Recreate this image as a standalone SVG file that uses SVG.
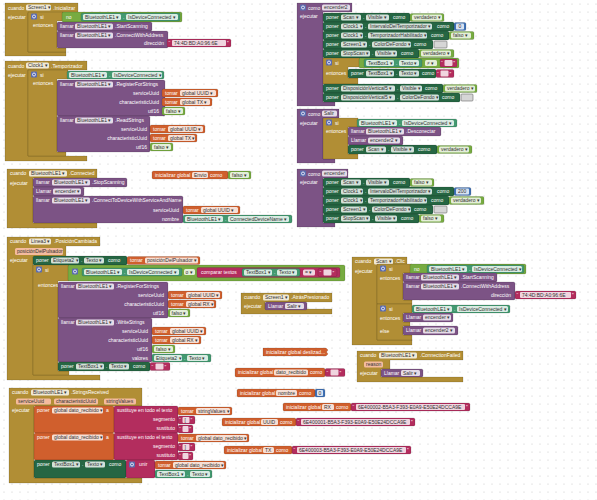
<svg xmlns="http://www.w3.org/2000/svg" width="597" height="500" viewBox="0 0 597 500">
<defs>
<style>
.t{font-family:"Liberation Sans",Arial,sans-serif;font-size:5px;fill:#fff}
.ft{font-family:"Liberation Sans",Arial,sans-serif;font-size:5px;fill:#333}
.r{text-anchor:end}
.f{fill:#fff;fill-opacity:.8}
.pf{fill:#f4bb9f}
.b{stroke:#000;stroke-opacity:.25;stroke-width:.5}
.gd{fill:#b18e35}.pu{fill:#7c5385}.dg{fill:#266643}.tg{fill:#439970}.lg{fill:#77ab41}.or{fill:#d05f2d}.pk{fill:#b32d5e}.bl{fill:#3f71b5}
.cb{fill:#d6d6d6;stroke:#6a6a6a;stroke-width:.6}
</style>
<pattern id="dots" width="8" height="8" patternUnits="userSpaceOnUse"><circle cx="4" cy="4" r=".55" fill="#c4c4c4"/></pattern>
<g id="gear"><rect width="6" height="6" rx="1" fill="#5b6cb0"/><circle cx="3" cy="3" r="1.5" fill="none" stroke="#fff" stroke-width=".8"/></g>
</defs>
<rect width="597" height="500" fill="#fff"/>
<rect width="597" height="500" fill="url(#dots)"/>
<g id="connectors"/>

<g id="screen1-inicializar">
<path class="gd b" d="M5 3H78V13H28V52H66V56H5Z"/>
<text class="t" x="8" y="9.8">cuando</text>
<rect class="f" x="26" y="4.5" width="25" height="6" rx="1.5"/><text class="ft" x="28" y="9.1">Screen1 ▾</text>
<text class="t" x="53" y="9.8">.Inicializar</text>
<text class="t" x="8" y="18.5">ejecutar</text>
<path class="gd b" d="M28 12H63V21H57V48H66V52H28Z"/>
<use href="#gear" x="31" y="13.5"/>
<text class="t" x="40" y="18.5">si</text>
<text class="t" x="33" y="26.5">entonces</text>
<rect class="lg b" x="62" y="12" width="120" height="10" rx="1.5"/>
<text class="t" x="66" y="18.8">no</text>
<rect class="tg b" x="81" y="13" width="99" height="8" rx="1.5"/>
<rect class="f" x="83" y="14" width="38" height="6" rx="1.5"/><text class="ft" x="85" y="18.6">BluetoothLE1 ▾</text>
<text class="t" x="123" y="18.8">.</text>
<rect class="f" x="126" y="14" width="52" height="6" rx="1.5"/><text class="ft" x="128" y="18.6">IsDeviceConnected ▾</text>
<rect class="pu b" x="57" y="22" width="95" height="9" rx="1.5"/>
<text class="t" x="60" y="28.3">llamar</text>
<rect class="f" x="75" y="23.5" width="38" height="6" rx="1.5"/><text class="ft" x="77" y="28.1">BluetoothLE1 ▾</text>
<text class="t" x="115" y="28.3">.StartScanning</text>
<rect class="pu b" x="57" y="31" width="111" height="17" rx="1.5"/>
<text class="t" x="60" y="37.3">llamar</text>
<rect class="f" x="75" y="32.5" width="38" height="6" rx="1.5"/><text class="ft" x="77" y="37.1">BluetoothLE1 ▾</text>
<text class="t" x="115" y="37.3">.ConnectWithAddress</text>
<text class="t r" x="164" y="45">dirección</text>
<rect class="pk b" x="167" y="39" width="64" height="8" rx="1.5"/>
<text class="t" x="168.5" y="45">“</text>
<rect class="f" x="172" y="40" width="54" height="6" rx="1"/><text class="ft" x="174" y="44.6">74:4D:BD:A0:96:6E</text>
<text class="t" x="227" y="45">”</text>
</g>

<g id="clock1-temporizador">
<path class="gd b" d="M5 61H87V70H28V156H87V161H5Z"/>
<text class="t" x="8" y="67.5">cuando</text>
<rect class="f" x="26" y="62.5" width="23" height="6" rx="1.5"/><text class="ft" x="28" y="67.1">Clock1 ▾</text>
<text class="t" x="51" y="67.5">.Temporizador</text>
<text class="t" x="8" y="77">ejecutar</text>
<path class="gd b" d="M28 70H68V79H57V152H66V156H28Z"/>
<use href="#gear" x="31" y="71.5"/>
<text class="t" x="40" y="76.5">si</text>
<text class="t" x="33" y="85">entonces</text>
<rect class="tg b" x="67" y="71" width="97" height="8" rx="1.5"/>
<rect class="f" x="69" y="72" width="38" height="6" rx="1.5"/><text class="ft" x="71" y="76.6">BluetoothLE1 ▾</text>
<text class="t" x="109" y="76.8">.</text>
<rect class="f" x="112" y="72" width="50" height="6" rx="1.5"/><text class="ft" x="114" y="76.6">IsDeviceConnected ▾</text>
<rect class="pu b" x="57" y="80" width="108" height="36" rx="1.5"/>
<text class="t" x="60" y="86.3">llamar</text>
<rect class="f" x="75" y="81.5" width="38" height="6" rx="1.5"/><text class="ft" x="77" y="86.1">BluetoothLE1 ▾</text>
<text class="t" x="115" y="86.3">.RegisterForStrings</text>
<text class="t r" x="159" y="94.8">serviceUuid</text>
<text class="t r" x="159" y="103.8">characteristicUuid</text>
<text class="t r" x="159" y="112.8">utf16</text>
<rect class="or b" x="162" y="89" width="56" height="8" rx="1.5"/>
<text class="t" x="165" y="94.8">tomar</text>
<rect class="f" x="180" y="90" width="36" height="6" rx="1.5"/><text class="ft" x="182" y="94.6">global UUID ▾</text>
<rect class="or b" x="162" y="98" width="50" height="8" rx="1.5"/>
<text class="t" x="165" y="103.8">tomar</text>
<rect class="f" x="180" y="99" width="30" height="6" rx="1.5"/><text class="ft" x="182" y="103.6">global TX ▾</text>
<rect class="lg b" x="162" y="107" width="23" height="8" rx="1.5"/>
<rect class="f" x="164" y="108" width="19" height="6" rx="1.5"/><text class="ft" x="166" y="112.6">falso ▾</text>
<rect class="pu b" x="57" y="116" width="93" height="36" rx="1.5"/>
<text class="t" x="60" y="122.3">llamar</text>
<rect class="f" x="75" y="117.5" width="38" height="6" rx="1.5"/><text class="ft" x="77" y="122.1">BluetoothLE1 ▾</text>
<text class="t" x="115" y="122.3">.ReadStrings</text>
<text class="t r" x="147" y="130.8">serviceUuid</text>
<text class="t r" x="147" y="139.8">characteristicUuid</text>
<text class="t r" x="147" y="148.8">utf16</text>
<rect class="or b" x="150" y="125" width="55" height="8" rx="1.5"/>
<text class="t" x="153" y="130.8">tomar</text>
<rect class="f" x="168" y="126" width="35" height="6" rx="1.5"/><text class="ft" x="170" y="130.6">global UUID ▾</text>
<rect class="or b" x="150" y="134" width="47" height="8" rx="1.5"/>
<text class="t" x="153" y="139.8">tomar</text>
<rect class="f" x="168" y="135" width="27" height="6" rx="1.5"/><text class="ft" x="170" y="139.6">global TX ▾</text>
<rect class="lg b" x="150" y="143" width="23" height="8" rx="1.5"/>
<rect class="f" x="152" y="144" width="19" height="6" rx="1.5"/><text class="ft" x="154" y="148.6">falso ▾</text>
</g>

<g id="proc-encender2">
<path class="pu b" d="M297 3H352V12H323V102H335V106H297Z"/>
<use href="#gear" x="300" y="4.5"/>
<text class="t" x="308" y="9.6">como</text>
<rect class="f" x="322" y="4.5" width="28" height="6" rx="1.5"/><text class="ft" x="324" y="9.1">encender2</text>
<text class="t" x="300" y="18">ejecutar</text>
<rect class="dg b" x="323" y="13" width="87" height="9" rx="1.5"/>
<text class="t" x="326" y="19.3">poner</text>
<rect class="f" x="341" y="14.5" width="20" height="6" rx="1.5"/><text class="ft" x="343" y="19.1">Scan ▾</text>
<text class="t" x="363" y="19.3">.</text>
<rect class="f" x="366" y="14.5" width="23" height="6" rx="1.5"/><text class="ft" x="368" y="19.1">Visible ▾</text>
<text class="t" x="393" y="19.3">como</text>
<rect class="lg b" x="410" y="13.5" width="34" height="8" rx="1.5"/>
<rect class="f" x="412" y="14.5" width="30" height="6" rx="1.5"/><text class="ft" x="414" y="19.1">verdadero ▾</text>
<rect class="dg b" x="323" y="22" width="131" height="9" rx="1.5"/>
<text class="t" x="326" y="28.3">poner</text>
<rect class="f" x="341" y="23.5" width="22" height="6" rx="1.5"/><text class="ft" x="343" y="28.1">Clock1 ▾</text>
<text class="t" x="365" y="28.3">.</text>
<rect class="f" x="368" y="23.5" width="64" height="6" rx="1.5"/><text class="ft" x="370" y="28.1">IntervaloDelTemporizador ▾</text>
<text class="t" x="437" y="28.3">como</text>
<rect class="bl b" x="454" y="22.5" width="12" height="8" rx="1.5"/>
<rect class="f" x="456" y="23.5" width="8" height="6" rx="1"/><text class="ft" x="458.5" y="28.1">0</text>
<rect class="dg b" x="323" y="31" width="126" height="9" rx="1.5"/>
<text class="t" x="326" y="37.3">poner</text>
<rect class="f" x="341" y="32.5" width="22" height="6" rx="1.5"/><text class="ft" x="343" y="37.1">Clock1 ▾</text>
<text class="t" x="365" y="37.3">.</text>
<rect class="f" x="368" y="32.5" width="59" height="6" rx="1.5"/><text class="ft" x="370" y="37.1">TemporizadorHabilitado ▾</text>
<text class="t" x="431" y="37.3">como</text>
<rect class="lg b" x="449" y="31.5" width="25" height="8" rx="1.5"/>
<rect class="f" x="451" y="32.5" width="20" height="6" rx="1.5"/><text class="ft" x="453" y="37.1">falso ▾</text>
<rect class="dg b" x="323" y="40" width="110" height="9" rx="1.5"/>
<text class="t" x="326" y="46.3">poner</text>
<rect class="f" x="341" y="41.5" width="26" height="6" rx="1.5"/><text class="ft" x="343" y="46.1">Screen1 ▾</text>
<text class="t" x="369" y="46.3">.</text>
<rect class="f" x="372" y="41.5" width="39" height="6" rx="1.5"/><text class="ft" x="374" y="46.1">ColorDeFondo ▾</text>
<text class="t" x="414" y="46.3">como</text>
<rect class="cb" x="434" y="41" width="13" height="7" rx="1"/>
<rect class="dg b" x="323" y="49" width="96" height="9" rx="1.5"/>
<text class="t" x="326" y="55.3">poner</text>
<rect class="f" x="341" y="50.5" width="29" height="6" rx="1.5"/><text class="ft" x="343" y="55.1">StopScan ▾</text>
<text class="t" x="372" y="55.3">.</text>
<rect class="f" x="375" y="50.5" width="22" height="6" rx="1.5"/><text class="ft" x="377" y="55.1">Visible ▾</text>
<text class="t" x="401" y="55.3">como</text>
<rect class="lg b" x="419" y="49.5" width="35" height="8" rx="1.5"/>
<rect class="f" x="421" y="50.5" width="30" height="6" rx="1.5"/><text class="ft" x="423" y="55.1">verdadero ▾</text>
<path class="gd b" d="M323 58H360V67H348V78H358V84H323Z"/>
<use href="#gear" x="326" y="59.5"/>
<text class="t" x="335" y="64.5">si</text>
<text class="t" x="326" y="74.5">entonces</text>
<rect class="lg b" x="359" y="58" width="100" height="10" rx="1.5"/>
<rect class="tg b" x="364" y="59" width="58" height="8" rx="1.5"/>
<rect class="f" x="366" y="60" width="28" height="6" rx="1.5"/><text class="ft" x="368" y="64.6">TextBox1 ▾</text>
<text class="t" x="396" y="64.8">.</text>
<rect class="f" x="399" y="60" width="20" height="6" rx="1.5"/><text class="ft" x="401" y="64.6">Texto ▾</text>
<rect class="f" x="425" y="60" width="12" height="6" rx="1.5"/><text class="ft" x="427" y="64.6">≠ ▾</text>
<rect class="pk b" x="440" y="59" width="17" height="8" rx="1.5"/>
<text class="t" x="441" y="65">“</text><rect class="f" x="444.5" y="60" width="8" height="6" rx="1"/><text class="t" x="453.3" y="65">”</text>
<rect class="dg b" x="348" y="69" width="88" height="9" rx="1.5"/>
<text class="t" x="351" y="75.3">poner</text>
<rect class="f" x="366" y="70.5" width="28" height="6" rx="1.5"/><text class="ft" x="368" y="75.1">TextBox1 ▾</text>
<text class="t" x="396" y="75.3">.</text>
<rect class="f" x="399" y="70.5" width="20" height="6" rx="1.5"/><text class="ft" x="401" y="75.1">Texto ▾</text>
<text class="t" x="422" y="75.3">como</text>
<rect class="pk b" x="436" y="69.5" width="18" height="8" rx="1.5"/>
<text class="t" x="437" y="75.5">“</text><rect class="f" x="440.5" y="70.5" width="8" height="6" rx="1"/><text class="t" x="449.5" y="75.5">”</text>
<rect class="dg b" x="323" y="84" width="120" height="9" rx="1.5"/>
<text class="t" x="326" y="90.3">poner</text>
<rect class="f" x="341" y="85.5" width="54" height="6" rx="1.5"/><text class="ft" x="343" y="90.1">DisposiciónVertical5 ▾</text>
<text class="t" x="397" y="90.3">.</text>
<rect class="f" x="400" y="85.5" width="22" height="6" rx="1.5"/><text class="ft" x="402" y="90.1">Visible ▾</text>
<text class="t" x="425" y="90.3">como</text>
<rect class="lg b" x="443" y="84.5" width="34" height="8" rx="1.5"/>
<rect class="f" x="445" y="85.5" width="30" height="6" rx="1.5"/><text class="ft" x="447" y="90.1">verdadero ▾</text>
<rect class="dg b" x="323" y="93" width="137" height="9" rx="1.5"/>
<text class="t" x="326" y="99.3">poner</text>
<rect class="f" x="341" y="94.5" width="54" height="6" rx="1.5"/><text class="ft" x="343" y="99.1">DisposiciónVertical5 ▾</text>
<text class="t" x="397" y="99.3">.</text>
<rect class="f" x="400" y="94.5" width="39" height="6" rx="1.5"/><text class="ft" x="402" y="99.1">ColorDeFondo ▾</text>
<text class="t" x="442" y="99.3">como</text>
<rect class="cb" x="461" y="94" width="12" height="7" rx="1"/>
</g>

<g id="proc-salir">
<path class="pu b" d="M297 109H339V118H323V159H335V163H297Z"/>
<use href="#gear" x="300" y="110.5"/>
<text class="t" x="308" y="115.6">como</text>
<rect class="f" x="322" y="110.5" width="15" height="6" rx="1.5"/><text class="ft" x="324" y="115.1">Salir</text>
<text class="t" x="300" y="124.5">ejecutar</text>
<path class="gd b" d="M323 118H358V127H348V154H358V159H323Z"/>
<use href="#gear" x="326" y="119.5"/>
<text class="t" x="335" y="124.5">si</text>
<text class="t" x="326" y="132.5">entonces</text>
<rect class="tg b" x="357" y="119" width="100" height="8" rx="1.5"/>
<rect class="f" x="359" y="120" width="38" height="6" rx="1.5"/><text class="ft" x="361" y="124.6">BluetoothLE1 ▾</text>
<text class="t" x="399" y="124.8">.</text>
<rect class="f" x="402" y="120" width="52" height="6" rx="1.5"/><text class="ft" x="404" y="124.6">IsDeviceConnected ▾</text>
<rect class="pu b" x="348" y="127" width="93" height="9" rx="1.5"/>
<text class="t" x="351" y="133.3">llamar</text>
<rect class="f" x="366" y="128.5" width="38" height="6" rx="1.5"/><text class="ft" x="368" y="133.1">BluetoothLE1 ▾</text>
<text class="t" x="406" y="133.3">.Desconectar</text>
<rect class="pu b" x="348" y="136" width="55" height="9" rx="1.5"/>
<text class="t" x="351" y="142.3">Llamar</text>
<rect class="f" x="368" y="137.5" width="32" height="6" rx="1.5"/><text class="ft" x="370" y="142.1">encender2 ▾</text>
<rect class="dg b" x="348" y="145" width="89" height="9" rx="1.5"/>
<text class="t" x="351" y="151.3">poner</text>
<rect class="f" x="366" y="146.5" width="20" height="6" rx="1.5"/><text class="ft" x="368" y="151.1">Scan ▾</text>
<text class="t" x="388" y="151.3">.</text>
<rect class="f" x="391" y="146.5" width="23" height="6" rx="1.5"/><text class="ft" x="393" y="151.1">Visible ▾</text>
<text class="t" x="418" y="151.3">como</text>
<rect class="lg b" x="437" y="145.5" width="35" height="8" rx="1.5"/>
<rect class="f" x="439" y="146.5" width="30" height="6" rx="1.5"/><text class="ft" x="441" y="151.1">verdadero ▾</text>
</g>

<g id="proc-encender">
<path class="pu b" d="M297 169H348V178H323V223H335V227H297Z"/>
<use href="#gear" x="300" y="170.5"/>
<text class="t" x="308" y="175.6">como</text>
<rect class="f" x="322" y="170.5" width="25" height="6" rx="1.5"/><text class="ft" x="324" y="175.1">encender</text>
<text class="t" x="300" y="184">ejecutar</text>
<rect class="dg b" x="323" y="178" width="87" height="9" rx="1.5"/>
<text class="t" x="326" y="184.3">poner</text>
<rect class="f" x="341" y="179.5" width="20" height="6" rx="1.5"/><text class="ft" x="343" y="184.1">Scan ▾</text>
<text class="t" x="363" y="184.3">.</text>
<rect class="f" x="366" y="179.5" width="23" height="6" rx="1.5"/><text class="ft" x="368" y="184.1">Visible ▾</text>
<text class="t" x="393" y="184.3">como</text>
<rect class="lg b" x="410" y="178.5" width="24" height="8" rx="1.5"/>
<rect class="f" x="412" y="179.5" width="20" height="6" rx="1.5"/><text class="ft" x="414" y="184.1">falso ▾</text>
<rect class="dg b" x="323" y="187" width="131" height="9" rx="1.5"/>
<text class="t" x="326" y="193.3">poner</text>
<rect class="f" x="341" y="188.5" width="22" height="6" rx="1.5"/><text class="ft" x="343" y="193.1">Clock1 ▾</text>
<text class="t" x="365" y="193.3">.</text>
<rect class="f" x="368" y="188.5" width="64" height="6" rx="1.5"/><text class="ft" x="370" y="193.1">IntervaloDelTemporizador ▾</text>
<text class="t" x="437" y="193.3">como</text>
<rect class="bl b" x="454" y="187.5" width="17" height="8" rx="1.5"/>
<rect class="f" x="456" y="188.5" width="13" height="6" rx="1"/><text class="ft" x="458" y="193.1">200</text>
<rect class="dg b" x="323" y="196" width="126" height="9" rx="1.5"/>
<text class="t" x="326" y="202.3">poner</text>
<rect class="f" x="341" y="197.5" width="22" height="6" rx="1.5"/><text class="ft" x="343" y="202.1">Clock1 ▾</text>
<text class="t" x="365" y="202.3">.</text>
<rect class="f" x="368" y="197.5" width="59" height="6" rx="1.5"/><text class="ft" x="370" y="202.1">TemporizadorHabilitado ▾</text>
<text class="t" x="431" y="202.3">como</text>
<rect class="lg b" x="449" y="196.5" width="35" height="8" rx="1.5"/>
<rect class="f" x="451" y="197.5" width="30" height="6" rx="1.5"/><text class="ft" x="453" y="202.1">verdadero ▾</text>
<rect class="dg b" x="323" y="205" width="110" height="9" rx="1.5"/>
<text class="t" x="326" y="211.3">poner</text>
<rect class="f" x="341" y="206.5" width="26" height="6" rx="1.5"/><text class="ft" x="343" y="211.1">Screen1 ▾</text>
<text class="t" x="369" y="211.3">.</text>
<rect class="f" x="372" y="206.5" width="39" height="6" rx="1.5"/><text class="ft" x="374" y="211.1">ColorDeFondo ▾</text>
<text class="t" x="414" y="211.3">como</text>
<rect class="cb" x="434" y="206" width="13" height="7" rx="1"/>
<rect class="dg b" x="323" y="214" width="96" height="9" rx="1.5"/>
<text class="t" x="326" y="220.3">poner</text>
<rect class="f" x="341" y="215.5" width="29" height="6" rx="1.5"/><text class="ft" x="343" y="220.1">StopScan ▾</text>
<text class="t" x="372" y="220.3">.</text>
<rect class="f" x="375" y="215.5" width="22" height="6" rx="1.5"/><text class="ft" x="377" y="220.1">Visible ▾</text>
<text class="t" x="401" y="220.3">como</text>
<rect class="lg b" x="419" y="214.5" width="25" height="8" rx="1.5"/>
<rect class="f" x="421" y="215.5" width="20" height="6" rx="1.5"/><text class="ft" x="423" y="220.1">falso ▾</text>
</g>

<g id="ble-connected">
<path class="gd b" d="M7 169H97V178H33V223H97V228H7Z"/>
<text class="t" x="10" y="175.3">cuando</text>
<rect class="f" x="29" y="170.5" width="38" height="6" rx="1.5"/><text class="ft" x="31" y="175.1">BluetoothLE1 ▾</text>
<text class="t" x="69" y="175.3">.Connected</text>
<text class="t" x="10" y="184.5">ejecutar</text>
<rect class="pu b" x="33" y="178" width="94" height="9" rx="1.5"/>
<text class="t" x="36" y="184.3">llamar</text>
<rect class="f" x="52" y="179.5" width="38" height="6" rx="1.5"/><text class="ft" x="54" y="184.1">BluetoothLE1 ▾</text>
<text class="t" x="92" y="184.3">.StopScanning</text>
<rect class="pu b" x="33" y="187" width="51" height="9" rx="1.5"/>
<text class="t" x="36" y="193.3">Llamar</text>
<rect class="f" x="53" y="188.5" width="28" height="6" rx="1.5"/><text class="ft" x="55" y="193.1">encender ▾</text>
<rect class="pu b" x="33" y="196" width="150" height="27" rx="1.5"/>
<text class="t" x="36" y="202.3">llamar</text>
<rect class="f" x="52" y="197.5" width="38" height="6" rx="1.5"/><text class="ft" x="54" y="202.1">BluetoothLE1 ▾</text>
<text class="t" x="92" y="202.3">.ConnectToDeviceWithServiceAndName</text>
<text class="t r" x="179" y="211.8">serviceUuid</text>
<text class="t r" x="179" y="220.8">nombre</text>
<rect class="or b" x="183" y="206" width="57" height="8" rx="1.5"/>
<text class="t" x="186" y="211.8">tomar</text>
<rect class="f" x="201" y="207" width="37" height="6" rx="1.5"/><text class="ft" x="203" y="211.6">global UUID ▾</text>
<rect class="tg b" x="183" y="215" width="109" height="8" rx="1.5"/>
<rect class="f" x="185" y="216" width="38" height="6" rx="1.5"/><text class="ft" x="187" y="220.6">BluetoothLE1 ▾</text>
<text class="t" x="225" y="220.8">.</text>
<rect class="f" x="228" y="216" width="61" height="6" rx="1.5"/><text class="ft" x="230" y="220.6">ConnectedDeviceName ▾</text>
</g>

<g id="init-envio">
<rect class="or b" x="152" y="171" width="76" height="8" rx="1.5"/>
<text class="t" x="155" y="176.8">inicializar global</text>
<rect class="f" x="192" y="172" width="16" height="6" rx="1.5"/><text class="ft" x="194" y="176.6">Envio</text>
<text class="t" x="210" y="176.8">como</text>
<rect class="lg b" x="228" y="171" width="23" height="8" rx="1.5"/>
<rect class="f" x="230" y="172" width="19" height="6" rx="1.5"/><text class="ft" x="232" y="176.6">falso ▾</text>
</g>

<g id="linea3-posicion">
<path class="gd b" d="M7 237H100V246H66V257H33V375H100V380H7Z"/>
<text class="t" x="10" y="243.3">cuando</text>
<rect class="f" x="29" y="238.5" width="22" height="6" rx="1.5"/><text class="ft" x="31" y="243.1">Linea3 ▾</text>
<text class="t" x="54" y="243.3">.PosiciónCambiada</text>
<rect class="pf" x="15" y="248" width="48" height="7" rx="1.5"/><text class="ft" x="17" y="253.1">posiciónDelPulsador</text>
<text class="t" x="10" y="262">ejecutar</text>
<rect class="dg b" x="33" y="256" width="94" height="9" rx="1.5"/>
<text class="t" x="36" y="262.3">poner</text>
<rect class="f" x="51" y="257.5" width="28" height="6" rx="1.5"/><text class="ft" x="53" y="262.1">Etiqueta2 ▾</text>
<text class="t" x="81" y="262.3">.</text>
<rect class="f" x="84" y="257.5" width="20" height="6" rx="1.5"/><text class="ft" x="86" y="262.1">Texto ▾</text>
<text class="t" x="108" y="262.3">como</text>
<rect class="or b" x="127" y="256.5" width="73" height="8" rx="1.5"/>
<text class="t" x="130" y="262.3">tomar</text>
<rect class="f" x="145" y="257.5" width="53" height="6" rx="1.5"/><text class="ft" x="147" y="262.1">posiciónDelPulsador ▾</text>
<path class="gd b" d="M33 265H69V281H58V371H69V375H33Z"/>
<use href="#gear" x="36" y="266.5"/>
<text class="t" x="45" y="271.5">si</text>
<text class="t" x="38" y="286.5">entonces</text>
<rect class="lg b" x="68" y="265" width="277" height="16" rx="1.5"/>
<use href="#gear" x="72" y="268.5"/>
<rect class="tg b" x="82" y="268" width="100" height="8" rx="1.5"/>
<rect class="f" x="84" y="269" width="38" height="6" rx="1.5"/><text class="ft" x="86" y="273.6">BluetoothLE1 ▾</text>
<text class="t" x="124" y="273.8">.</text>
<rect class="f" x="127" y="269" width="52" height="6" rx="1.5"/><text class="ft" x="129" y="273.6">IsDeviceConnected ▾</text>
<rect class="f" x="184" y="269" width="11" height="6" rx="1.5"/><text class="ft" x="185.5" y="273.6">o ▾</text>
<rect class="pk b" x="197" y="267.5" width="143" height="10" rx="1.5"/>
<text class="t" x="201" y="274.2">comparar textos</text>
<rect class="tg b" x="242" y="268.5" width="58" height="8" rx="1.5"/>
<rect class="f" x="244" y="269.5" width="28" height="6" rx="1.5"/><text class="ft" x="246" y="274.1">TextBox1 ▾</text>
<text class="t" x="274" y="274.3">.</text>
<rect class="f" x="277" y="269.5" width="20" height="6" rx="1.5"/><text class="ft" x="279" y="274.1">Texto ▾</text>
<rect class="f" x="303" y="269.5" width="12" height="6" rx="1.5"/><text class="ft" x="305" y="274.1">= ▾</text>
<rect class="pk b" x="318" y="268.5" width="19" height="8" rx="1.5"/>
<text class="t" x="319.5" y="274.5">“</text><rect class="f" x="323.5" y="269.5" width="8" height="6" rx="1"/><text class="t" x="332.5" y="274.5">”</text>
<rect class="pu b" x="58" y="282" width="110" height="36" rx="1.5"/>
<text class="t" x="61" y="288.3">llamar</text>
<rect class="f" x="76" y="283.5" width="38" height="6" rx="1.5"/><text class="ft" x="78" y="288.1">BluetoothLE1 ▾</text>
<text class="t" x="116" y="288.3">.RegisterForStrings</text>
<text class="t r" x="164" y="296.8">serviceUuid</text>
<text class="t r" x="164" y="305.8">characteristicUuid</text>
<text class="t r" x="164" y="314.8">utf16</text>
<rect class="or b" x="168" y="291" width="54" height="8" rx="1.5"/>
<text class="t" x="171" y="296.8">tomar</text>
<rect class="f" x="186" y="292" width="34" height="6" rx="1.5"/><text class="ft" x="188" y="296.6">global UUID ▾</text>
<rect class="or b" x="168" y="300" width="48" height="8" rx="1.5"/>
<text class="t" x="171" y="305.8">tomar</text>
<rect class="f" x="186" y="301" width="28" height="6" rx="1.5"/><text class="ft" x="188" y="305.6">global RX ▾</text>
<rect class="lg b" x="168" y="309" width="22" height="8" rx="1.5"/>
<rect class="f" x="170" y="310" width="18" height="6" rx="1.5"/><text class="ft" x="171.5" y="314.6">falso ▾</text>
<rect class="pu b" x="58" y="318" width="94" height="44" rx="1.5"/>
<text class="t" x="61" y="324.3">llamar</text>
<rect class="f" x="76" y="319.5" width="38" height="6" rx="1.5"/><text class="ft" x="78" y="324.1">BluetoothLE1 ▾</text>
<text class="t" x="116" y="324.3">.WriteStrings</text>
<text class="t r" x="148" y="332.8">serviceUuid</text>
<text class="t r" x="148" y="341.8">characteristicUuid</text>
<text class="t r" x="148" y="350.8">utf16</text>
<text class="t r" x="148" y="359.8">valores</text>
<rect class="or b" x="152" y="327" width="54" height="8" rx="1.5"/>
<text class="t" x="155" y="332.8">tomar</text>
<rect class="f" x="170" y="328" width="34" height="6" rx="1.5"/><text class="ft" x="172" y="332.6">global UUID ▾</text>
<rect class="or b" x="152" y="336" width="49" height="8" rx="1.5"/>
<text class="t" x="155" y="341.8">tomar</text>
<rect class="f" x="170" y="337" width="29" height="6" rx="1.5"/><text class="ft" x="172" y="341.6">global RX ▾</text>
<rect class="lg b" x="152" y="345" width="23" height="8" rx="1.5"/>
<rect class="f" x="154" y="346" width="19" height="6" rx="1.5"/><text class="ft" x="156" y="350.6">falso ▾</text>
<rect class="tg b" x="152" y="354" width="59" height="8" rx="1.5"/>
<rect class="f" x="154" y="355" width="28" height="6" rx="1.5"/><text class="ft" x="156" y="359.6">Etiqueta2 ▾</text>
<text class="t" x="184" y="359.8">.</text>
<rect class="f" x="187" y="355" width="21" height="6" rx="1.5"/><text class="ft" x="189" y="359.6">Texto ▾</text>
<rect class="dg b" x="58" y="362" width="92" height="9" rx="1.5"/>
<text class="t" x="61" y="368.3">poner</text>
<rect class="f" x="76" y="363.5" width="28" height="6" rx="1.5"/><text class="ft" x="78" y="368.1">TextBox1 ▾</text>
<text class="t" x="106" y="368.3">.</text>
<rect class="f" x="109" y="363.5" width="20" height="6" rx="1.5"/><text class="ft" x="111" y="368.1">Texto ▾</text>
<text class="t" x="133" y="368.3">como</text>
<rect class="pk b" x="150" y="362.5" width="20" height="8" rx="1.5"/>
<text class="t" x="151.5" y="368.5">“</text><rect class="f" x="155.5" y="363.5" width="8" height="6" rx="1"/><text class="t" x="164.5" y="368.5">”</text>
</g>

<g id="screen1-atras">
<path class="gd b" d="M241 293H332V302H265V309H332V314H241Z"/>
<text class="t" x="244" y="299.3">cuando</text>
<rect class="f" x="263" y="294.5" width="26" height="6" rx="1.5"/><text class="ft" x="265" y="299.1">Screen1 ▾</text>
<text class="t" x="291" y="299.3">.AtrásPresionado</text>
<text class="t" x="244" y="307.8">ejecutar</text>
<rect class="pu b" x="265" y="302" width="42" height="8" rx="1.5"/>
<text class="t" x="268" y="307.8">Llamar</text>
<rect class="f" x="285" y="303" width="19" height="6" rx="1.5"/><text class="ft" x="287" y="307.6">Salir ▾</text>
</g>

<g id="init-deslizad">
<path class="or b" d="M263 348H326L328 350L326.5 352L328 354L326 356H263Z"/>
<text class="t" x="266" y="353.8">inicializar global deslizad...</text>
</g>

<g id="init-dato-recibido">
<rect class="or b" x="235" y="368" width="90" height="9" rx="1.5"/>
<text class="t" x="238" y="374.3">inicializar global</text>
<rect class="f" x="274" y="369.5" width="34" height="6" rx="1.5"/><text class="ft" x="276" y="374.1">dato_recibido</text>
<text class="t" x="310" y="374.3">como</text>
<rect class="pk b" x="325" y="368.5" width="20" height="8" rx="1.5"/>
<text class="t" x="326.5" y="374.5">“</text><rect class="f" x="330.5" y="369.5" width="8" height="6" rx="1"/><text class="t" x="339.5" y="374.5">”</text>
</g>

<g id="scan-clic">
<path class="gd b" d="M352 257H407V266H377V340H412V345H352Z"/>
<text class="t" x="355" y="263.3">cuando</text>
<rect class="f" x="374" y="258.5" width="19" height="6" rx="1.5"/><text class="ft" x="376" y="263.1">Scan ▾</text>
<text class="t" x="395" y="263.3">.Clic</text>
<text class="t" x="355" y="272.5">ejecutar</text>
<path class="gd b" d="M377 264H412V273H403V300H412V304H377Z"/>
<use href="#gear" x="380" y="265.5"/>
<text class="t" x="389" y="270.5">si</text>
<text class="t" x="380" y="279.5">entonces</text>
<rect class="lg b" x="410" y="264" width="116" height="10" rx="1.5"/>
<text class="t" x="414" y="270.8">no</text>
<rect class="tg b" x="427" y="265" width="97" height="8" rx="1.5"/>
<rect class="f" x="429" y="266" width="38" height="6" rx="1.5"/><text class="ft" x="431" y="270.6">BluetoothLE1 ▾</text>
<text class="t" x="469" y="270.8">.</text>
<rect class="f" x="472" y="266" width="50" height="6" rx="1.5"/><text class="ft" x="474" y="270.6">IsDeviceConnected ▾</text>
<rect class="pu b" x="403" y="273" width="94" height="9" rx="1.5"/>
<text class="t" x="406" y="279.3">llamar</text>
<rect class="f" x="421" y="274.5" width="38" height="6" rx="1.5"/><text class="ft" x="423" y="279.1">BluetoothLE1 ▾</text>
<text class="t" x="461" y="279.3">.StartScanning</text>
<rect class="pu b" x="403" y="282" width="112" height="18" rx="1.5"/>
<text class="t" x="406" y="288.3">llamar</text>
<rect class="f" x="421" y="283.5" width="38" height="6" rx="1.5"/><text class="ft" x="423" y="288.1">BluetoothLE1 ▾</text>
<text class="t" x="461" y="288.3">.ConnectWithAddress</text>
<text class="t r" x="511" y="296.8">dirección</text>
<rect class="pk b" x="515" y="291" width="61" height="8" rx="1.5"/>
<text class="t" x="516.5" y="297">“</text>
<rect class="f" x="520" y="292" width="51" height="6" rx="1"/><text class="ft" x="522" y="296.6">74:4D:BD:A0:96:6E</text>
<text class="t" x="572" y="297">”</text>
<path class="gd b" d="M377 304H412V313H403V322H410V326H403V335H412V340H377Z"/>
<use href="#gear" x="380" y="305.5"/>
<text class="t" x="389" y="310.5">si</text>
<text class="t" x="380" y="319.5">entonces</text>
<text class="t" x="380" y="332.5">else</text>
<rect class="tg b" x="412" y="305" width="98" height="8" rx="1.5"/>
<rect class="f" x="414" y="306" width="38" height="6" rx="1.5"/><text class="ft" x="416" y="310.6">BluetoothLE1 ▾</text>
<text class="t" x="454" y="310.8">.</text>
<rect class="f" x="457" y="306" width="51" height="6" rx="1.5"/><text class="ft" x="459" y="310.6">IsDeviceConnected ▾</text>
<rect class="pu b" x="403" y="313" width="50" height="9" rx="1.5"/>
<text class="t" x="406" y="319.3">Llamar</text>
<rect class="f" x="423" y="314.5" width="28" height="6" rx="1.5"/><text class="ft" x="425" y="319.1">encender ▾</text>
<rect class="pu b" x="403" y="326" width="55" height="9" rx="1.5"/>
<text class="t" x="406" y="332.3">Llamar</text>
<rect class="f" x="423" y="327.5" width="32" height="6" rx="1.5"/><text class="ft" x="425" y="332.1">encender2 ▾</text>
</g>

<g id="ble-connectionfailed">
<path class="gd b" d="M357 351H463V360H390V369H381V377H463V382H357Z"/>
<text class="t" x="360" y="357.3">cuando</text>
<rect class="f" x="379" y="352.5" width="38" height="6" rx="1.5"/><text class="ft" x="381" y="357.1">BluetoothLE1 ▾</text>
<text class="t" x="420" y="357.3">.ConnectionFailed</text>
<rect class="pf" x="364" y="361.5" width="19" height="6" rx="1.5"/><text class="ft" x="366" y="366.1">reason</text>
<text class="t" x="360" y="375">ejecutar</text>
<rect class="pu b" x="381" y="369" width="42" height="8" rx="1.5"/>
<text class="t" x="384" y="374.8">Llamar</text>
<rect class="f" x="401" y="370" width="19" height="6" rx="1.5"/><text class="ft" x="403" y="374.6">Salir ▾</text>
</g>

<g id="ble-stringsreceived">
<path class="gd b" d="M9 388H142V406H34V478H142V483H9Z"/>
<text class="t" x="12" y="394.3">cuando</text>
<rect class="f" x="31" y="389.5" width="38" height="6" rx="1.5"/><text class="ft" x="33" y="394.1">BluetoothLE1 ▾</text>
<text class="t" x="71" y="394.3">.StringsReceived</text>
<rect class="pf" x="16" y="398.5" width="35" height="6" rx="1.5"/><text class="ft" x="18" y="403.1">serviceUuid</text>
<rect class="pf" x="54" y="398.5" width="44" height="6" rx="1.5"/><text class="ft" x="56" y="403.1">characteristicUuid</text>
<rect class="pf" x="104" y="398.5" width="32" height="6" rx="1.5"/><text class="ft" x="106" y="403.1">stringValues</text>
<text class="t" x="12" y="412">ejecutar</text>
<rect class="or b" x="34" y="406" width="80" height="27" rx="1.5"/>
<text class="t" x="37" y="412.3">poner</text>
<rect class="f" x="52" y="407.5" width="51" height="6" rx="1.5"/><text class="ft" x="54" y="412.1">global dato_recibido ▾</text>
<text class="t" x="106" y="412.3">a</text>
<rect class="pk b" x="114" y="406" width="64" height="27" rx="1.5"/>
<text class="t" x="117" y="412.3">sustituye en todo el texto</text>
<text class="t r" x="175" y="421.3">segmento</text>
<text class="t r" x="175" y="430.3">sustituto</text>
<rect class="or b" x="178" y="407" width="54" height="8" rx="1.5"/>
<text class="t" x="181" y="412.8">tomar</text>
<rect class="f" x="196" y="408" width="34" height="6" rx="1.5"/><text class="ft" x="198" y="412.6">stringValues ▾</text>
<rect class="pk b" x="178" y="416" width="17" height="8" rx="1.5"/>
<text class="t" x="179" y="422">“</text><rect class="f" x="182.5" y="417" width="7" height="6" rx="1"/><text class="ft" x="184.5" y="421.6">[</text><text class="t" x="190.5" y="422">”</text>
<rect class="pk b" x="178" y="425" width="15" height="8" rx="1.5"/>
<text class="t" x="179" y="431">“</text><rect class="f" x="182.5" y="426" width="6" height="6" rx="1"/><text class="t" x="189.3" y="431">”</text>
<rect class="or b" x="34" y="433" width="80" height="27" rx="1.5"/>
<text class="t" x="37" y="439.3">poner</text>
<rect class="f" x="52" y="434.5" width="51" height="6" rx="1.5"/><text class="ft" x="54" y="439.1">global dato_recibido ▾</text>
<text class="t" x="106" y="439.3">a</text>
<rect class="pk b" x="114" y="433" width="64" height="27" rx="1.5"/>
<text class="t" x="117" y="439.3">sustituye en todo el texto</text>
<text class="t r" x="175" y="448.3">segmento</text>
<text class="t r" x="175" y="457.3">sustituto</text>
<rect class="or b" x="178" y="434" width="71" height="8" rx="1.5"/>
<text class="t" x="181" y="439.8">tomar</text>
<rect class="f" x="196" y="435" width="51" height="6" rx="1.5"/><text class="ft" x="198" y="439.6">global dato_recibido ▾</text>
<rect class="pk b" x="178" y="443" width="17" height="8" rx="1.5"/>
<text class="t" x="179" y="449">“</text><rect class="f" x="182.5" y="444" width="7" height="6" rx="1"/><text class="ft" x="184.5" y="448.6">]</text><text class="t" x="190.5" y="449">”</text>
<rect class="pk b" x="178" y="452" width="15" height="8" rx="1.5"/>
<text class="t" x="179" y="458">“</text><rect class="f" x="182.5" y="453" width="6" height="6" rx="1"/><text class="t" x="189.3" y="458">”</text>
<rect class="dg b" x="34" y="460" width="92" height="18" rx="1.5"/>
<text class="t" x="37" y="466.3">poner</text>
<rect class="f" x="52" y="461.5" width="28" height="6" rx="1.5"/><text class="ft" x="54" y="466.1">TextBox1 ▾</text>
<text class="t" x="82" y="466.3">.</text>
<rect class="f" x="85" y="461.5" width="20" height="6" rx="1.5"/><text class="ft" x="87" y="466.1">Texto ▾</text>
<text class="t" x="109" y="466.3">como</text>
<rect class="pk b" x="126" y="460" width="29" height="18" rx="1.5"/>
<use href="#gear" x="129" y="461.5"/>
<text class="t" x="139" y="466.3">unir</text>
<rect class="or b" x="155" y="461" width="71" height="8" rx="1.5"/>
<text class="t" x="158" y="466.8">tomar</text>
<rect class="f" x="173" y="462" width="51" height="6" rx="1.5"/><text class="ft" x="175" y="466.6">global dato_recibido ▾</text>
<rect class="tg b" x="155" y="470" width="57" height="8" rx="1.5"/>
<rect class="f" x="157" y="471" width="28" height="6" rx="1.5"/><text class="ft" x="159" y="475.6">TextBox1 ▾</text>
<text class="t" x="187" y="475.8">.</text>
<rect class="f" x="190" y="471" width="20" height="6" rx="1.5"/><text class="ft" x="192" y="475.6">Texto ▾</text>
</g>

<g id="init-nombre">
<rect class="or b" x="237" y="389" width="78" height="8" rx="1.5"/>
<text class="t" x="240" y="394.8">inicializar global</text>
<rect class="f" x="276" y="390" width="21" height="6" rx="1.5"/><text class="ft" x="278" y="394.6">nombre</text>
<text class="t" x="299" y="394.8">como</text>
<rect class="bl b" x="315" y="389" width="10" height="8" rx="1.5"/>
<rect class="f" x="317" y="390" width="6" height="6" rx="1"/><text class="ft" x="318.5" y="394.6">0</text>
</g>

<g id="init-rx">
<rect class="or b" x="283" y="403" width="68" height="8" rx="1.5"/>
<text class="t" x="286" y="408.8">inicializar global</text>
<rect class="f" x="322" y="404" width="12" height="6" rx="1.5"/><text class="ft" x="324" y="408.6">RX</text>
<text class="t" x="336" y="408.8">como</text>
<rect class="pk b" x="351" y="403" width="119" height="8" rx="1.5"/>
<text class="t" x="352.5" y="409">“</text>
<rect class="f" x="356" y="404" width="109" height="6" rx="1"/><text class="ft" x="358" y="408.6">6E400002-B5A3-F393-E0A9-E50E24DCCA9E</text>
<text class="t" x="466" y="409">”</text>
</g>

<g id="init-uuid">
<rect class="or b" x="222" y="418" width="74" height="8" rx="1.5"/>
<text class="t" x="225" y="423.8">inicializar global</text>
<rect class="f" x="261" y="419" width="17" height="6" rx="1.5"/><text class="ft" x="263" y="423.6">UUID</text>
<text class="t" x="280" y="423.8">como</text>
<rect class="pk b" x="296" y="418" width="119" height="8" rx="1.5"/>
<text class="t" x="297.5" y="424">“</text>
<rect class="f" x="301" y="419" width="109" height="6" rx="1"/><text class="ft" x="303" y="423.6">6E400001-B5A3-F393-E0A9-E50E24DCCA9E</text>
<text class="t" x="411" y="424">”</text>
</g>

<g id="init-tx">
<rect class="or b" x="224" y="446" width="68" height="8" rx="1.5"/>
<text class="t" x="227" y="451.8">inicializar global</text>
<rect class="f" x="263" y="447" width="11" height="6" rx="1.5"/><text class="ft" x="265" y="451.6">TX</text>
<text class="t" x="276" y="451.8">como</text>
<rect class="pk b" x="292" y="446" width="119" height="8" rx="1.5"/>
<text class="t" x="293.5" y="452">“</text>
<rect class="f" x="297" y="447" width="109" height="6" rx="1"/><text class="ft" x="299" y="451.6">6E400003-B5A3-F393-E0A9-E50E24DCCA9E</text>
<text class="t" x="407" y="452">”</text>
</g>
</svg>
